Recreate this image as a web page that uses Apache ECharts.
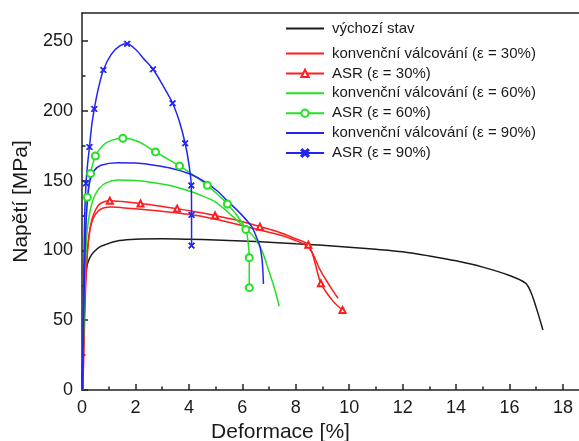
<!DOCTYPE html>
<html>
<head>
<meta charset="utf-8">
<script src="https://cdn.jsdelivr.net/npm/echarts@6/dist/echarts.min.js"></script>
<style>
  html, body { margin: 0; padding: 0; background: #fff; }
  #chart { width: 579px; height: 441px; }
</style>
</head>
<body>
<div id="chart"></div>
<script>
const FONT = "'Liberation Sans', Arial, Helvetica, sans-serif";
const INK = '#1a1a1a';

// Axis tick positions
const xMajorTicks = [0, 2, 4, 6, 8, 10, 12, 14, 16, 18];
const xMinorTicks = [1, 3, 5, 7, 9, 11, 13, 15, 17];
const yMajorTicks = [0, 50, 100, 150, 200, 250];
const yMinorTicks = [25, 75, 125, 175, 225];

// Series names
const nameInitial = 'výchozí stav';
const nameConv30 = 'konvenční válcování (ε = 30%)';
const nameAsr30 = 'ASR (ε = 30%)';
const nameConv60 = 'konvenční válcování (ε = 60%)';
const nameAsr60 = 'ASR (ε = 60%)';
const nameConv90 = 'konvenční válcování (ε = 90%)';
const nameAsr90 = 'ASR (ε = 90%)';

// Stress–strain curves: [deformace %, napětí MPa]
const initialState = [
  [0, 0], [0.04, 30], [0.08, 60], [0.13, 80], [0.2, 90], [0.3, 95], [0.45, 99],
  [0.7, 102.8], [1.0, 105], [1.4, 107], [2, 108], [3, 108.3], [4, 108], [5, 107.5],
  [6, 106.7], [7, 105.8], [8, 104.7], [9, 103.7], [10, 102.3], [11, 100.8], [12, 99],
  [13, 96], [14, 92.5], [15, 88], [16, 82], [16.6, 76.5], [16.8, 70], [17.0, 59], [17.25, 43]
];

const conv30 = [
  [0.02, 0], [0.07, 40], [0.12, 75], [0.2, 100], [0.3, 115], [0.42, 123], [0.6, 128],
  [0.8, 130.3], [1.1, 131], [1.5, 130.6], [2, 129.8], [3, 128], [4, 125.8], [5, 122.3],
  [6, 117.8], [6.66, 114.6], [7.5, 110.5], [8, 107], [8.35, 104], [8.6, 99], [8.91, 86],
  [9.29, 74], [9.58, 65.7]
];

const asr30 = [
  [0.03, 0], [0.06, 20], [0.1, 50], [0.15, 80], [0.2, 97], [0.28, 113], [0.4, 124],
  [0.6, 132], [0.8, 134.6], [1.04, 135.6], [1.5, 135], [2.19, 133.6], [3, 131.5],
  [3.56, 129.9], [4.3, 127.5], [4.98, 125], [5.8, 121.5], [6.66, 117], [7.3, 113.5],
  [7.9, 109], [8.47, 104], [8.72, 91], [8.94, 76.4], [9.41, 63.3], [9.75, 57.3]
];
const asr30Marked = [9, 11, 13, 15, 17, 20, 22, 24];

const conv60 = [
  [0.02, 0], [0.06, 40], [0.1, 75], [0.15, 100], [0.2, 115], [0.3, 128], [0.45, 138],
  [0.65, 144.5], [0.9, 148.3], [1.34, 150.4], [2, 150], [2.7, 148.5], [3.3, 146.5],
  [3.9, 143.3], [4.42, 139.7], [5, 134.5], [5.66, 124], [6.16, 115], [6.48, 108.5],
  [6.73, 100], [6.98, 86], [7.2, 73], [7.38, 60]
];

const asr60 = [
  [0.02, 0], [0.06, 50], [0.1, 90], [0.14, 118], [0.2, 138], [0.32, 155], [0.5, 167.6],
  [0.8, 175.5], [1.1, 178.8], [1.53, 180.3], [2.1, 178], [2.75, 170.5], [3.2, 165.5],
  [3.65, 160.5], [4.2, 153.5], [4.69, 146.6], [5.05, 140.5], [5.44, 133.2], [5.8, 125],
  [6.13, 115], [6.22, 105], [6.26, 94.8], [6.26, 73.3]
];
const asr60Marked = [4, 5, 6, 9, 11, 13, 15, 17, 19, 21, 22];

const conv90 = [
  [0.02, 0], [0.05, 40], [0.09, 80], [0.13, 110], [0.2, 135], [0.3, 150], [0.45, 157],
  [0.71, 161], [1.34, 162.8], [2, 162.5], [2.7, 161], [3.4, 158.5], [4.04, 154.7],
  [4.6, 149], [5.1, 142], [5.41, 136], [5.9, 127], [6.35, 117], [6.55, 108.5],
  [6.66, 102.7], [6.74, 93], [6.77, 85], [6.79, 76]
];

const asr90 = [
  [0.02, 0], [0.04, 40], [0.07, 90], [0.1, 125], [0.15, 148], [0.21, 162], [0.28, 174],
  [0.36, 189], [0.46, 201.3], [0.6, 215], [0.8, 229.2], [1.1, 240.5], [1.4, 246.3],
  [1.69, 247.9], [2.0, 244], [2.3, 237.5], [2.66, 229.7], [3.0, 219], [3.39, 205.4],
  [3.65, 192], [3.86, 176.7], [4.0, 162], [4.09, 146.5], [4.1, 125.4], [4.1, 103.4]
];
const asr90Marked = [4, 6, 8, 10, 13, 16, 18, 20, 22, 23, 24];

// Filled "x" glyph for the ε = 90 % ASR points
const CROSS = 'path://M0,1.3L1.3,0L5,3.7L8.7,0L10,1.3L6.3,5L10,8.7L8.7,10L5,6.3L1.3,10L0,8.7L3.7,5Z';

function markedData(points, marked) {
  return points.map((p, i) => marked.indexOf(i) >= 0 ? { value: p } : { value: p, symbol: 'none' });
}

function curve(name, color, points) {
  return {
    name, type: 'line', data: points, smooth: 0.3, symbol: 'none',
    lineStyle: { color, width: 1.5 }, itemStyle: { color },
    emphasis: { disabled: true }, z: 3
  };
}

function asrCurve(name, color, points, marked, symbol, symbolSize) {
  return {
    name, type: 'line', data: markedData(points, marked), smooth: 0.3,
    symbol, symbolSize, showSymbol: true,
    lineStyle: { color, width: 1.5 },
    itemStyle: { color, borderColor: color, borderWidth: 1 },
    emphasis: { disabled: true }, z: 3
  };
}

const RED = '#ff1c1c';
const GREEN = '#22e022';
const BLUE = '#2424f2';

const axisLineStyle = { color: '#222', width: 1.5 };

// Legend entries: plain curves get a bare line icon, ASR curves keep their marker
const lineOnly = (name) => ({ name, itemStyle: { opacity: 0 } });
const legendText = { fontFamily: FONT, fontSize: 15, color: INK, lineHeight: 14, padding: [0, 0, 0, 3] };

const chart = echarts.init(document.getElementById('chart'), null, { renderer: 'canvas' });

chart.setOption({
  animation: false,
  backgroundColor: '#fff',
  textStyle: { fontFamily: FONT },
  grid: { left: 82, right: 0, top: 13, bottom: 51, containLabel: false, outerBoundsMode: 'none' },
  legend: [
    {
      data: [lineOnly(nameInitial)], orient: 'vertical', left: 285, top: 21, padding: 0,
      itemWidth: 38, itemHeight: 9, selectedMode: false, textStyle: legendText
    },
    {
      data: [lineOnly(nameConv30), nameAsr30, lineOnly(nameConv60), nameAsr60, lineOnly(nameConv90), nameAsr90],
      orient: 'vertical', left: 285, top: 46, padding: 0, itemGap: 4.9,
      itemWidth: 38, itemHeight: 9, selectedMode: false, textStyle: legendText
    }
  ],
  xAxis: [
    {
      type: 'value', min: 0, max: 18.6, position: 'bottom',
      axisLine: { show: true, lineStyle: axisLineStyle },
      axisTick: { show: true, inside: true, length: 6, customValues: xMajorTicks, lineStyle: axisLineStyle },
      axisLabel: { customValues: xMajorTicks, fontSize: 18, margin: 9, color: INK, fontFamily: FONT },
      splitLine: { show: false },
      name: 'Deformace [%]', nameLocation: 'middle', nameGap: 31,
      nameTextStyle: { fontSize: 21, color: INK, fontFamily: FONT, padding: [0, 100, 0, 0] }
    },
    {
      type: 'value', min: 0, max: 18.6, position: 'bottom',
      axisLine: { show: false },
      axisTick: { show: true, inside: true, length: 3.5, customValues: xMinorTicks, lineStyle: axisLineStyle },
      axisLabel: { show: false }, splitLine: { show: false }
    },
    {
      type: 'value', min: 0, max: 18.6, position: 'top',
      axisLine: { show: true, lineStyle: axisLineStyle },
      axisTick: { show: false }, axisLabel: { show: false }, splitLine: { show: false }
    }
  ],
  yAxis: [
    {
      type: 'value', min: 0, max: 270, position: 'left',
      axisLine: { show: true, lineStyle: axisLineStyle },
      axisTick: { show: true, inside: true, length: 6, customValues: yMajorTicks, lineStyle: axisLineStyle },
      axisLabel: { customValues: yMajorTicks, fontSize: 18, margin: 9, color: INK, fontFamily: FONT },
      splitLine: { show: false },
      name: 'Napětí [MPa]', nameLocation: 'middle', nameGap: 46,
      nameTextStyle: { fontSize: 21, color: INK, fontFamily: FONT }
    },
    {
      type: 'value', min: 0, max: 270, position: 'left',
      axisLine: { show: false },
      axisTick: { show: true, inside: true, length: 3.5, customValues: yMinorTicks, lineStyle: axisLineStyle },
      axisLabel: { show: false }, splitLine: { show: false }
    }
  ],
  series: [
    curve(nameInitial, '#1a1a1a', initialState),
    curve(nameConv30, RED, conv30),
    asrCurve(nameAsr30, RED, asr30, asr30Marked, 'emptyTriangle', 6),
    curve(nameConv60, GREEN, conv60),
    asrCurve(nameAsr60, GREEN, asr60, asr60Marked, 'emptyCircle', 7),
    curve(nameConv90, BLUE, conv90),
    asrCurve(nameAsr90, BLUE, asr90, asr90Marked, CROSS, 6)
  ]
});
</script>
</body>
</html>
